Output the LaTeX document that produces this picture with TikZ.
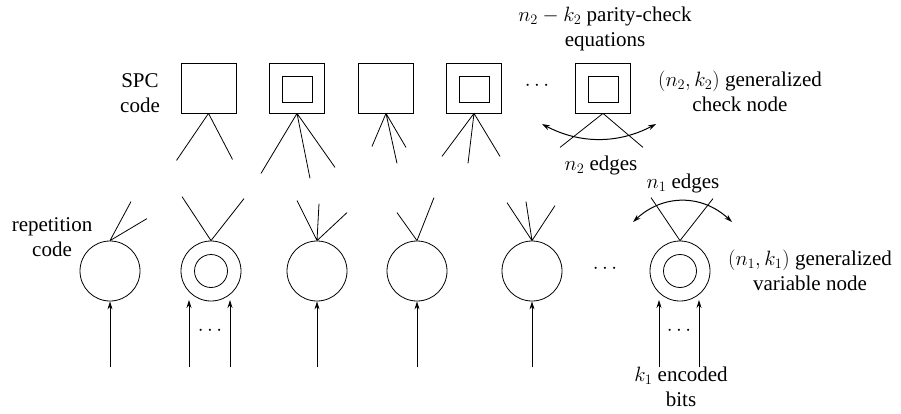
\documentclass[tikz,border=0pt]{standalone}
\usepackage{fontspec}
\setmainfont{Liberation Serif}
\usetikzlibrary{arrows.meta}
\begin{document}
\begin{tikzpicture}[x=1pt,y=-1pt,
  every node/.style={font=\fontsize{21}{25}\selectfont},
  line width=0.8pt,
  chk/.style={draw,rectangle,minimum width=55pt,minimum height=50pt,inner sep=0pt},
  chkin/.style={draw,rectangle,minimum width=30pt,minimum height=26pt,inner sep=0pt},
  var/.style={draw,circle,minimum size=60pt,inner sep=0pt},
  varin/.style={draw,circle,minimum size=33pt,inner sep=0pt},
  lbl/.style={align=center,inner sep=0pt},
  tip/.style={-{Stealth[length=8pt,width=5pt]}},
  tips/.style={{Stealth[length=8pt,width=5pt]}-{Stealth[length=8pt,width=5pt]}}]
\useasboundingbox (0,0) rectangle (901,413);

% check nodes
\node[chk] (s1) at (208.5,88) {};
\node[chk] (s2) at (297,88) {};
\node[chkin] (s2i) at (297,89) {};
\node[chk] (s3) at (386,88) {};
\node[chk] (s4) at (474,88) {};
\node[chkin] (s4i) at (474,89) {};
\node (sd) at (537,86) {$\cdots$};
\node[chk] (s5) at (603,88) {};
\node[chkin] (s5i) at (603,89) {};

% check stubs
\draw (s1.south) -- ++(-32,47) (s1.south) -- ++(24,46);
\draw (s2.south) -- ++(-36,60) (s2.south) -- ++(13,65) (s2.south) -- ++(38,54);
\draw (s3.south) -- ++(-14,33) (s3.south) -- ++(11,50) (s3.south) -- ++(20,34);
\draw (s4.south) -- ++(-32,43) (s4.south) -- ++(-6,50) (s4.south) -- ++(26,43);
\draw (s5.south) -- ++(-43,34) (s5.south) -- ++(40,34);

% variable nodes
\node[var] (c1) at (110,271) {};
\node[var] (c2) at (211,271) {};
\node[varin] (c2i) at (211,271) {};
\node[var] (c3) at (317,271) {};
\node[var] (c4) at (417,271) {};
\node[var] (c5) at (532,271) {};
\node (cd) at (605,269) {$\cdots$};
\node[var] (c6) at (680,271) {};
\node[varin] (c6i) at (680,271) {};

% variable stubs
\draw (c1.north) -- ++(21,-39) (c1.north) -- ++(37,-22);
\draw (c2.north) -- ++(-29,-44) (c2.north) -- ++(33,-42);
\draw (c3.north) -- ++(-20,-40) (c3.north) -- ++(2,-37) (c3.north) -- ++(30,-28);
\draw (c4.north) -- ++(-20,-28) (c4.north) -- ++(17,-43);
\draw (c5.north) -- ++(-25,-38) (c5.north) -- ++(-6,-39) (c5.north) -- ++(23,-35);
\draw (c6.north) -- ++(-29,-43) (c6.north) -- ++(33,-42);

% curved arrows
\coordinate (a1) at (542,124);
\coordinate (a2) at (656,124);
\draw[tips,line width=1pt] (a1) .. controls (580,144) and (618,144) .. (a2);
\coordinate (b1) at (633,222);
\coordinate (b2) at (732,222);
\draw[tips,line width=1pt] (b1) .. controls (663,194) and (702,194) .. (b2);

% input arrows
\coordinate (i1) at (110,367);
\draw[tip] (i1) -- (c1.south);
\coordinate (i2a) at (189,367); \coordinate (e2a) at (189,300);
\coordinate (i2b) at (230,367); \coordinate (e2b) at (230,300);
\draw[tip] (i2a) -- (e2a);
\draw[tip] (i2b) -- (e2b);
\node (d2) at (210,331) {$\cdots$};
\coordinate (i3) at (317,367);
\draw[tip] (i3) -- (c3.south);
\coordinate (i4) at (417,367);
\draw[tip] (i4) -- (c4.south);
\coordinate (i5) at (532,367);
\draw[tip] (i5) -- (c5.south);
\coordinate (i6a) at (659,367); \coordinate (e6a) at (659,300);
\coordinate (i6b) at (699,367); \coordinate (e6b) at (699,300);
\draw[tip] (i6a) -- (e6a);
\draw[tip] (i6b) -- (e6b);
\node (d6) at (679,331) {$\cdots$};

% labels
\node[lbl] (tspc) at (140,93) {SPC\\code};
\node[lbl] (tpar) at (605,29) {$n_2-k_2$ parity-check\\equations};
\node[lbl] (tgc) at (740,91) {$(n_2,k_2)$ generalized\\check node};
\node[lbl] (te2) at (601,165) {$n_2$ edges};
\node[lbl] (te1) at (683,183) {$n_1$ edges};
\node[lbl] (trep) at (52,237) {repetition\\code};
\node[lbl] (tgv) at (810,270) {$(n_1,k_1)$ generalized\\variable node};
\node[lbl] (tk1) at (681,387) {$k_1$ encoded\\bits};
\end{tikzpicture}
\end{document}
